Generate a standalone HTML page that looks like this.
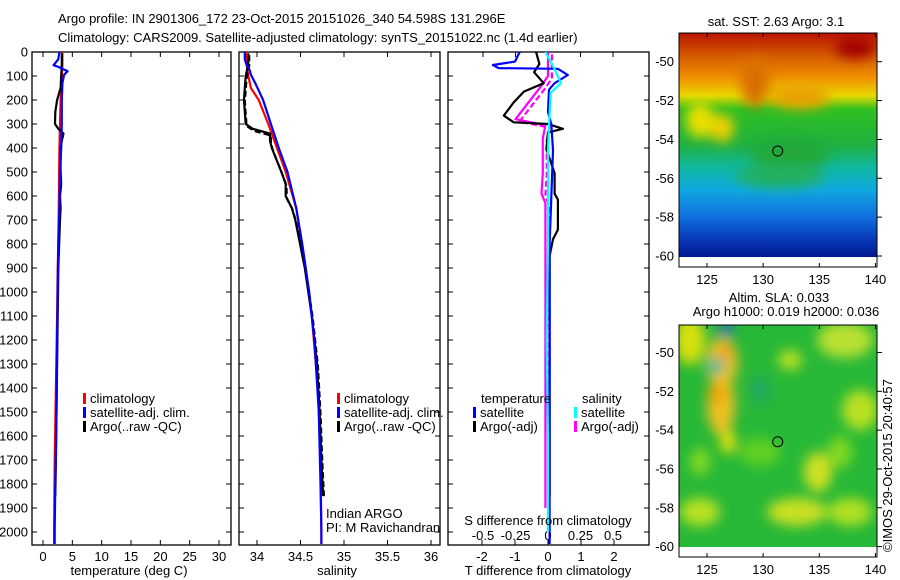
<!DOCTYPE html>
<html><head><meta charset="utf-8">
<style>
html,body{margin:0;padding:0;background:#fff;}
svg{display:block;font-family:"Liberation Sans",sans-serif;}
text{font-size:13px;fill:#000;}
</style></head>
<body>
<svg id="fig" width="900" height="580" viewBox="0 0 900 580">
<defs>
  <linearGradient id="sstGrad" x1="0" y1="0" x2="0" y2="1">
    <stop offset="0" stop-color="#b81400"/>
    <stop offset="0.1" stop-color="#d45a00"/>
    <stop offset="0.2" stop-color="#f09000"/>
    <stop offset="0.28" stop-color="#e8d800"/>
    <stop offset="0.34" stop-color="#30c020"/>
    <stop offset="0.5" stop-color="#20b040"/>
    <stop offset="0.6" stop-color="#10b8a0"/>
    <stop offset="0.7" stop-color="#10a8e0"/>
    <stop offset="0.82" stop-color="#1070e0"/>
    <stop offset="0.92" stop-color="#0838b8"/>
    <stop offset="1" stop-color="#001890"/>
  </linearGradient>
  <filter id="blur6"><feGaussianBlur stdDeviation="6"/></filter>
  <clipPath id="clipMap1"><rect x="679" y="33" width="198" height="224"/></clipPath>
  <clipPath id="clipMap2"><rect x="679" y="325" width="198" height="222"/></clipPath>
</defs>
<g>
  <text x="58" y="23" font-size="14.5">Argo profile: IN 2901306_172 23-Oct-2015 20151026_340 54.598S 131.296E</text>
  <text x="58" y="42" font-size="14.5">Climatology: CARS2009. Satellite-adjusted climatology: synTS_20151022.nc (1.4d earlier)</text>
</g>
<g id="panels"></g>
<g id="maps"></g>
</svg>
<script>
// ---------- data ----------
const depthTicks = [0,100,200,300,400,500,600,700,800,900,1000,1100,1200,1300,1400,1500,1600,1700,1800,1900,2000];
const tempTicks = [0,5,10,15,20,25,30];
const salTicks = [34,34.5,35,35.5,36];
const salTickLabels = ["34","34.5","35","35.5","36"];
const tdTicks = [-2,-1,0,1,2];
const sdTicks = [-0.5,-0.25,0,0.25,0.5];
const sdTickLabels = ["-0.5","-0.25","0","0.25","0.5"];

const climDepth = [0,50,100,150,200,300,400,500,650,800,900,1100,1400,1700,2000,2050];
const climTemp  = [3.3,3.3,3.2,3.1,3.0,2.9,2.8,2.75,2.7,2.6,2.5,2.4,2.2,2.0,1.9,1.9];
const climSal   = [33.87,33.88,33.9,33.93,34.02,34.13,34.23,34.33,34.45,34.52,34.56,34.63,34.7,34.73,34.74,34.74];

const satDepth = [0,30,55,62,80,95,130,200,300,400,500,650,800,1000,1200,1500,1800,2000,2050];
const satTemp  = [2.8,2.6,1.8,2.6,4.2,3.6,3.3,3.2,3.2,3.1,2.9,2.8,2.6,2.5,2.4,2.3,2.1,2.0,2.0];
const satSal   = [33.86,33.86,33.88,33.9,33.92,33.93,33.98,34.07,34.16,34.25,34.35,34.45,34.52,34.6,34.66,34.71,34.73,34.74,34.74];

const argoDepth = [5,50,100,150,200,250,300,320,340,370,400,500,550,600,650,700,900,1100,1300,1500,1700,1850];
const argoTemp  = [3.2,3.2,3.1,3.0,2.4,2.1,2.05,2.6,3.5,3.2,3.0,3.0,3.1,2.9,3.0,2.9,2.6,2.5,2.4,2.3,2.2,2.1];
const argoSal   = [33.9,33.9,33.87,33.86,33.85,33.86,33.87,33.95,34.15,34.15,34.17,34.28,34.33,34.33,34.4,34.44,34.55,34.63,34.69,34.72,34.74,34.76];

const dTDepth = [0,40,54,67,70,96,130,157,250,300,410,800,1200,1600,2000,2050];
const satTDiff = [-0.86,-1.0,-1.67,-1.5,0.3,0.6,0.2,0.03,0.0,0.1,0.15,0.05,0.05,0.05,0.05,0.05];
const argoTDepth = [0,50,84,130,165,210,265,293,300,320,335,405,505,590,615,740,780,850,1850];
const argoTDiff = [-0.36,-0.26,-0.42,-0.13,-0.73,-1.04,-1.34,-1.04,0.0,0.45,0.0,-0.05,0.2,0.2,0.3,0.3,0.15,0.05,0.05];
const sDDepth = [0,60,130,170,400,800,1200,1600,2000];
const satSDiff = [-0.02,0.04,0.1,0.02,0.0,0.0,-0.01,0.0,0.0];
const argoSDepth = [0,100,140,210,280,305,360,505,590,630,920,1500,1900];
const argoSDiff = [0.0,0.0,-0.05,-0.15,-0.25,-0.02,-0.04,-0.04,-0.05,-0.02,-0.02,-0.02,-0.02];

const mapLonTicks = [125,130,135,140];
const mapLatTicks = [-50,-52,-54,-56,-58,-60];
const argoLon = 131.296, argoLat = -54.598;

// ---------- helpers ----------
const NS = "http://www.w3.org/2000/svg";
function mk(tag, attrs, parent){ const e=document.createElementNS(NS,tag); for(const k in attrs) e.setAttribute(k,attrs[k]); parent.appendChild(e); return e; }
const yD = d => 52 + d*0.24;
const P = document.getElementById('panels');
const TOP=52, BOT=545;

function frame(x0,x1,name){
  const r = mk('rect',{x:x0,y:TOP,width:x1-x0,height:BOT-TOP,fill:'none',stroke:'#000','stroke-width':1.3},P);
  
  
  depthTicks.forEach(d=>{
    mk('line',{x1:x0,y1:yD(d),x2:x0+5,y2:yD(d),stroke:'#000'},P);
    mk('line',{x1:x1,y1:yD(d),x2:x1-5,y2:yD(d),stroke:'#000'},P);
  });
}
function xTicks(vals,labels,xf,yLab,top){
  vals.forEach((v,i)=>{
    const x=xf(v);
    if(top!==false){ mk('line',{x1:x,y1:TOP,x2:x,y2:TOP+5,stroke:'#000'},P); }
    mk('line',{x1:x,y1:BOT,x2:x,y2:BOT-5,stroke:'#000'},P);
    const t=mk('text',{x:x,y:yLab,'text-anchor':'middle'},P); t.textContent=labels[i];
    
    
  });
}
function line(xs,ds,xf,color,name,dash){
  const pts=xs.map((v,i)=>xf(v).toFixed(1)+','+yD(ds[i]).toFixed(1)).join(' ');
  const a={points:pts,fill:'none',stroke:color,'stroke-width':2.2,'stroke-linejoin':'round'};
  if(dash) a['stroke-dasharray']=dash;
  const p=mk('polyline',a,P);
  
  
}
function legend(x,y,items){
  items.forEach((it,i)=>{
    mk('rect',{x:x,y:y+i*14-10,width:3,height:11,fill:it[0]},P);
    const t=mk('text',{x:x+7,y:y+i*14},P); t.textContent=it[1];
    
    
  });
}

// depth labels
depthTicks.forEach(d=>{
  const t=mk('text',{x:28,y:yD(d)+4.5,'text-anchor':'end'},P); t.textContent=d;
  
  
});

// panel 1: temperature
const xT = v => 43 + v*5.867;
frame(32,231,'temperature-panel');
xTicks(tempTicks,tempTicks.map(String),xT,561);
line(climTemp,climDepth,xT,'#ff0000','climatology-temp-line');
line(argoTemp,argoDepth,xT,'#000','argo-temp-line');
line(satTemp,satDepth,xT,'#0000ff','satellite-temp-line');
legend(83,403,[['#f00','climatology'],['#00f','satellite-adj. clim.'],['#000','Argo(..raw -QC)']]);
let t=mk('text',{x:129,y:575,'text-anchor':'middle'},P); t.textContent='temperature (deg C)';
 

// panel 2: salinity
const xS = v => 257 + (v-34)*87;
frame(239,440,'salinity-panel');
xTicks(salTicks,salTickLabels,xS,561);
line(climSal,climDepth,xS,'#ff0000','climatology-salinity-line');
line(argoSal,argoDepth,xS,'#000','argo-salinity-line');
line(argoSal.map(v=>v+0.01),argoDepth.map(d=>d+8),xS,'#000','argo-raw-salinity-line','6,3');
line(satSal,satDepth,xS,'#0000ff','satellite-salinity-line');
legend(337,403,[['#f00','climatology'],['#00f','satellite-adj. clim.'],['#000','Argo(..raw -QC)']]);
t=mk('text',{x:326,y:518},P); t.textContent='Indian ARGO';
 
t=mk('text',{x:326,y:532},P); t.textContent='PI: M Ravichandran';
 
t=mk('text',{x:337,y:575,'text-anchor':'middle'},P); t.textContent='salinity';
 

// panel 3: differences
const xTD = v => 548 + v*33;
const xSD = v => 548 + v*130;
frame(448,649,'difference-panel');
xTicks(tdTicks,tdTicks.map(String),xTD,561,false);
sdTicks.forEach((v,i)=>{
  const x=xSD(v); mk('line',{x1:x,y1:TOP,x2:x,y2:TOP+5,stroke:'#000'},P);
  const tt=mk('text',{x:x,y:540,'text-anchor':'middle'},P); tt.textContent=sdTickLabels[i];
   
});
line(argoSDiff,argoSDepth,xSD,'#ff00ff','argo-salinity-diff-line');
line(argoSDiff.map(v=>v+0.03),argoSDepth.map(d=>d+10),xSD,'#ff00ff','argo-raw-salinity-diff-line','6,3');
line(argoTDiff,argoTDepth,xTD,'#000','argo-temp-diff-line');
line(satTDiff,dTDepth,xTD,'#0000ff','satellite-temp-diff-line');
line(satSDiff,sDDepth,xSD,'#00ffff','satellite-salinity-diff-line');
t=mk('text',{x:481,y:403},P); t.textContent='temperature';
 
t=mk('text',{x:582,y:403},P); t.textContent='salinity';
 
legend(473,417,[['#00f','satellite'],['#000','Argo(-adj)']]);
legend(574,417,[['#0ff','satellite'],['#f0f','Argo(-adj)']]);
t=mk('text',{x:548,y:525,'text-anchor':'middle'},P); t.textContent='S difference from climatology';
 
t=mk('text',{x:548,y:575,'text-anchor':'middle'},P); t.textContent='T difference from climatology';
 

// ---------- maps ----------
const M = document.getElementById('maps');
const lonX = lon => 707 + (lon-125)*11.23;
function drawMap(top,imgBot,axBot,latY,titles,kind,name){
  const g=mk('g',{},M);
  
  
  if(kind==='sst'){
    const c=mk('g',{'clip-path':'url(#clipMap1)'},g);
    mk('rect',{x:679,y:top,width:198,height:imgBot-top,fill:'url(#sstGrad)'},c);
    const b=mk('g',{filter:'url(#blur6)'},c);
    mk('ellipse',{cx:700,cy:120,rx:14,ry:18,fill:'#e8e000'},b);
    mk('ellipse',{cx:722,cy:128,rx:12,ry:14,fill:'#f0d000'},b);
    mk('ellipse',{cx:790,cy:154,rx:40,ry:14,fill:'#20a838'},b);
    mk('ellipse',{cx:780,cy:176,rx:45,ry:12,fill:'#20b060'},b);
    mk('ellipse',{cx:755,cy:82,rx:14,ry:25,fill:'#d87000'},b);
    mk('ellipse',{cx:800,cy:97,rx:30,ry:12,fill:'#e8a000'},b);
    mk('ellipse',{cx:855,cy:48,rx:20,ry:10,fill:'#a00000'},b);
  } else {
    const c=mk('g',{'clip-path':'url(#clipMap2)'},g);
    mk('rect',{x:679,y:top,width:198,height:imgBot-top,fill:'#28b838'},c);
    const b=mk('g',{filter:'url(#blur6)'},c);
    [[690,340,15,25,'#d8e010'],[722,362,16,25,'#e8c020'],[726,352,8,8,'#f0a020'],[721,405,14,30,'#f0c020'],
     [717,394,8,10,'#f0a000'],[728,442,8,12,'#e0e010'],[797,512,30,14,'#c8e020'],[845,340,28,18,'#b8e030'],
     [818,472,14,20,'#d0e020'],[860,410,18,20,'#b8e020'],[700,512,20,14,'#b8e020'],[760,390,10,14,'#20a860'],
     [726,329,8,6,'#1060c0'],[716,366,8,8,'#20b8a0'],[850,512,22,14,'#b0e020'],[790,360,12,10,'#b8e020'],
     [760,452,20,14,'#60d020'],[840,452,12,16,'#80d820'],[700,462,10,14,'#80d820']]
     .forEach(e=>mk('ellipse',{cx:e[0],cy:e[1],rx:e[2],ry:e[3],fill:e[4]},b));
  }
  mk('rect',{x:679,y:top,width:198,height:axBot-top,fill:'none',stroke:'#000','stroke-width':1},g);
  mapLonTicks.forEach(l=>{
    const x=lonX(l);
    mk('line',{x1:x,y1:top,x2:x,y2:top+4,stroke:'#000'},g);
    mk('line',{x1:x,y1:axBot,x2:x,y2:axBot-4,stroke:'#000'},g);
    const tt=mk('text',{x:x,y:axBot+17,'text-anchor':'middle'},g); tt.textContent=l;
     
  });
  mapLatTicks.forEach(l=>{
    const y=latY(l);
    mk('line',{x1:877,y1:y,x2:882,y2:y,stroke:'#000'},g);
    const tt=mk('text',{x:674,y:y+4.5,'text-anchor':'end'},g); tt.textContent=l;
     
  });
  const ci=mk('circle',{cx:lonX(argoLon),cy:latY(argoLat),r:5,fill:'none',stroke:'#000','stroke-width':1},g);
  
  
  titles.forEach(s=>{
    const tt=mk('text',{x:s[1],y:s[2],'text-anchor':'middle'},g); tt.textContent=s[0];
     
  });
}
drawMap(33,257,267,l=>61.7+(-50-l)*19.43,[['sat. SST: 2.63  Argo: 3.1',776,26]],'sst','sst-map');
drawMap(325,547,557,l=>352.5+(-50-l)*19.41,[['Altim. SLA: 0.033',779,302],['Argo h1000: 0.019  h2000: 0.036',786,316]],'sla','sla-map');
t=mk('text',{x:0,y:0,transform:'translate(892,552) rotate(-90)','font-size':'12.5'},M);
t.textContent='©IMOS 29-Oct-2015 20:40:57';
 
</script>
</body></html>
